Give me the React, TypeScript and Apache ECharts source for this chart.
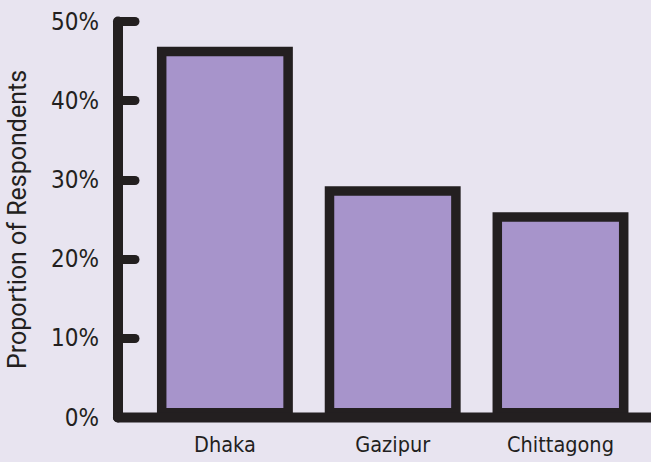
import React, { useEffect, useRef } from "react";
import * as echarts from "echarts";

const categories = ["Dhaka", "Gazipur", "Chittagong"];
const proportions = [46.8, 29.2, 25.9];
const yTicks = [0, 10, 20, 30, 40, 50];

const INK = "#231F20";
const BG = "#E8E4F0";
const BAR = "#A794CB";
const CONDENSED = "'Liberation Sans Narrow', 'DejaVu Sans Condensed', 'Roboto Condensed', sans-serif";

export default function App() {
  const ref = useRef<HTMLDivElement>(null);
  useEffect(() => {
    if (!ref.current) return;
    const chart = echarts.init(ref.current, null, { renderer: "svg" });
    const option: any = {
      animation: false,
      backgroundColor: BG,
      grid: {
        left: 141,
        right: 6.6,
        top: 21.5,
        bottom: 44.5,
        containLabel: false,
        outerBoundsMode: "none",
      },
      xAxis: {
        type: "category",
        data: categories,
        axisLine: { show: false },
        axisTick: { show: false },
        axisLabel: {
          margin: 16,
          color: INK,
          fontFamily: CONDENSED,
          fontSize: 21.5,
        },
      },
      yAxis: {
        type: "value",
        min: yTicks[0],
        max: yTicks[yTicks.length - 1],
        interval: 10,
        offset: 23,
        name: "Proportion of Respondents",
        nameLocation: "middle",
        nameGap: 88,
        nameRotate: 90,
        nameTextStyle: { color: INK, fontFamily: "Roboto, sans-serif", fontSize: 25 },
        axisLine: { show: true, lineStyle: { color: INK, width: 10, cap: "round" } },
        axisTick: { show: true, inside: true, length: 17, lineStyle: { color: INK, width: 9, cap: "round" } },
        splitLine: { show: false },
        axisLabel: {
          margin: 19,
          color: INK,
          fontFamily: CONDENSED,
          fontSize: 24,
          formatter: (v: number) => `${v}%`,
        },
      },
      series: [
        {
          type: "bar",
          data: proportions,
          barWidth: "81%",
          itemStyle: { color: BAR, borderColor: INK, borderWidth: 9.5 },
        },
      ],
    };
    chart.setOption(option);
    const zero = chart.convertToPixel({ gridIndex: 0 }, [0, 0]) as number[];
    const axisX = 141 - 23;
    chart.setOption({
      graphic: [
        {
          type: "line",
          z: 100,
          shape: { x1: axisX, y1: zero[1], x2: 660, y2: zero[1] },
          style: { stroke: INK, lineWidth: 10, lineCap: "round" },
        },
      ],
    });
    return () => chart.dispose();
  }, []);
  return <div ref={ref} style={{ width: 651, height: 462, position: "absolute", left: 0, top: 0 }} />;
}
